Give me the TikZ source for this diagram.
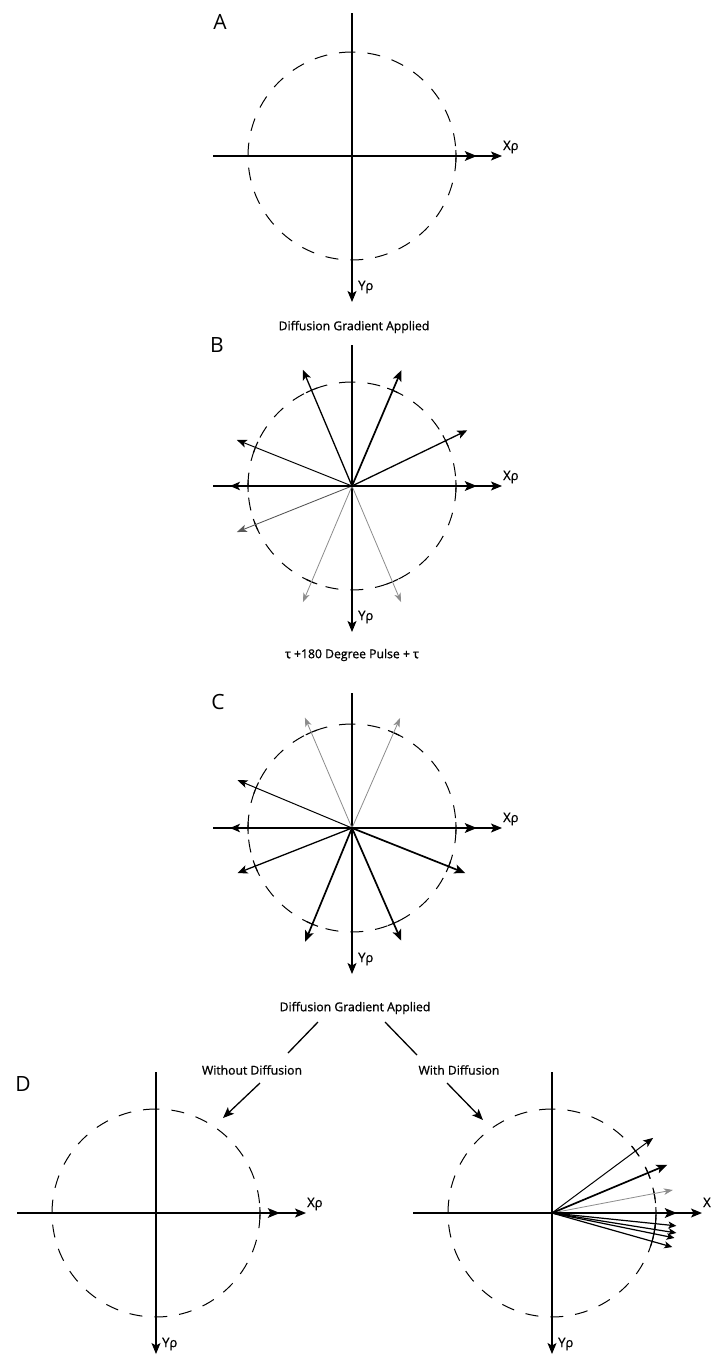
\documentclass[tikz,border=0pt]{standalone}
\usepackage{fontspec}
\setmainfont{Open Sans}
\newfontfamily\capfont[FakeBold=1.0]{Open Sans}
\usetikzlibrary{arrows.meta,calc}
\begin{document}
\begin{tikzpicture}[x=1pt,y=-1pt,
  axisline/.style={line width=1.1pt,-{Stealth[length=11pt,width=9pt,inset=2.5pt]}},
  dcirc/.style={line width=1.0pt,dash pattern=on 13pt off 12pt},
  tickmark/.style={line width=1.1pt},
  vthick/.style={line width=2.4pt,-{Stealth[length=12pt,width=9.5pt,inset=2.5pt]}},
  vmedt/.style={line width=1.7pt,-{Stealth[length=11pt,width=9pt,inset=2.5pt]}},
  vmed/.style={line width=1.3pt,-{Stealth[length=10pt,width=8.5pt,inset=2.5pt]}},
  vthin/.style={line width=1.0pt,-{Stealth[length=10pt,width=8pt,inset=2.5pt]}},
  vdgray/.style={line width=0.9pt,black!65,-{Stealth[length=10pt,width=7.5pt,inset=2.5pt]}},
  vlgray/.style={line width=0.8pt,black!45,-{Stealth[length=9pt,width=6.5pt,inset=2.5pt]}},
  vsmall/.style={line width=1.2pt,-{Stealth[length=8pt,width=7pt,inset=2pt]}},
  panlab/.style={font=\fontsize{21}{24}\selectfont,inner sep=0pt},
  axlab/.style={font=\capfont\fontsize{13}{15}\selectfont,inner sep=0pt,anchor=west},
  captext/.style={font=\capfont\fontsize{12.2}{14}\selectfont,inner sep=0pt},
  conn/.style={line width=1.3pt},
  connarrow/.style={line width=1.3pt,-{Stealth[length=11pt,width=9pt,inset=2.5pt]}}
]
\useasboundingbox[fill=white] (0,0) rectangle (711,1355);

% ---------- generic panel frame ----------
\newcommand\panelframe[5]{% name, cx, cy, top offset, bottom offset
  \coordinate (o#1) at (#2,#3);
  \coordinate (xl#1) at ($(o#1)+(-139,0)$);
  \coordinate (xr#1) at ($(o#1)+(150,0)$);
  \coordinate (yt#1) at ($(o#1)+(0,-#4)$);
  \coordinate (yb#1) at ($(o#1)+(0,#5)$);
  \draw[dcirc] ($(o#1)+(90:104pt)$) arc[start angle=90,end angle=450,radius=104pt];
  \draw[axisline] (xl#1) -- (xr#1);
  \draw[axisline] (yt#1) -- (yb#1);
  \node[axlab] (X#1) at ($(o#1)+(151,-9)$) {Xρ};
  \node[axlab] (Y#1) at ($(o#1)+(6,131)$) {Yρ};
}
\newcommand\tickat[2]{% panel, angle
  \draw[tickmark] ($(o#1)+(#2+3.3:104pt)$) arc[start angle=#2+3.3,end angle=#2-3.3,radius=104pt];
}

% ---------- Panel A ----------
\node[panlab] (labA) at (220,22) {A};
\panelframe{A}{352}{156}{143}{146}
\tickat{A}{0}
\coordinate (A1) at ($(oA)+(0:125pt)$);
\draw[vthick] (oA) -- (A1);

% ---------- Panel B ----------
\node[captext] (capB) at (354,327) {Diffusion Gradient Applied};
\node[panlab] (labB) at (217,345) {B};
\panelframe{B}{352}{486}{141}{146}
\foreach \a/\l/\s [count=\i] in {247.1/126/vlgray,292.9/126/vlgray,201.8/124/vdgray,
  158.2/124/vthin,180/122/vmed,112.9/126/vmed,66.9/126/vmedt,25.8/128/vmed,0/125/vthick}{
  \tickat{B}{\a}
  \coordinate (B\i) at ($(oB)+(\a:\l pt)$);
  \draw[\s] (oB) -- (B\i);
}

% ---------- Panel C ----------
\node[captext] (capC) at (352,655) {τ +180 Degree Pulse + τ};
\node[panlab] (labC) at (218,702) {C};
\panelframe{C}{352}{828}{135}{146}
\foreach \a/\l/\s [count=\i] in {66.4/120/vlgray,113.1/120/vlgray,157.3/124/vthin,
  180/122/vmed,201.5/123/vmed,247.6/123/vmedt,293.6/123/vmedt,338.3/122/vmedt,0/125/vthick}{
  \tickat{C}{\a}
  \coordinate (C\i) at ($(oC)+(\a:\l pt)$);
  \draw[\s] (oC) -- (C\i);
}

% ---------- Panel D ----------
\node[captext] (capD) at (355,1008) {Diffusion Gradient Applied};
\node[captext] (woD) at (252,1070) {Without Diffusion};
\node[captext] (wiD) at (459,1070) {With Diffusion};
\node[panlab] (labD) at (23,1084) {D};
\coordinate (l1s) at (318,1022); \coordinate (l1e) at (288,1053);
\coordinate (l2s) at (385,1022); \coordinate (l2e) at (417,1055);
\draw[conn] (l1s) -- (l1e);
\draw[conn] (l2s) -- (l2e);
\coordinate (a1s) at (260,1083); \coordinate (a1e) at (223,1118);
\coordinate (a2s) at (447,1083); \coordinate (a2e) at (483,1120);
\draw[connarrow] (a1s) -- (a1e);
\draw[connarrow] (a2s) -- (a2e);

\panelframe{L}{156}{1213}{141}{141}
\tickat{L}{0}
\coordinate (L1) at ($(oL)+(0:124pt)$);
\draw[vthick] (oL) -- (L1);

\panelframe{R}{552}{1213}{141}{141}
\foreach \a/\l/\s [count=\i] in {10.8/123/vlgray,36.6/126/vthin,22.7/125/vmedt,
  -5.9/125/vsmall,-9.1/126/vsmall,-11.5/125/vsmall,-15.8/125/vsmall,0/125/vthick}{
  \tickat{R}{\a}
  \coordinate (R\i) at ($(oR)+(\a:\l pt)$);
  \draw[\s] (oR) -- (R\i);
}
\end{tikzpicture}
\end{document}
